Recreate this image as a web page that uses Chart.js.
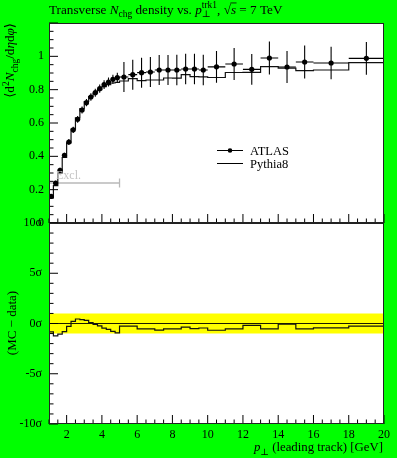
<!DOCTYPE html>
<html><head><meta charset="utf-8">
<script src="https://cdn.jsdelivr.net/npm/chart.js@4/dist/chart.umd.min.js"></script>
<style>
html,body{margin:0;padding:0;background:#00ff00;}
#wrap{position:relative;width:397px;height:458px;overflow:hidden;}
canvas{position:absolute;left:0;top:0;}
</style></head><body>
<div id="wrap"><canvas id="cTop" width="397" height="458"></canvas><canvas id="cBot" width="397" height="458"></canvas></div>
<script>
// ---- data ----
const binEdges = [1.0,1.25,1.5,1.75,2.0,2.25,2.5,2.75,3.0,3.25,3.5,3.75,4.0,4.25,4.5,4.75,5.0,
  5.5,6.0,6.5,7.0,7.5,8.0,8.5,9.0,9.5,10,11,12,13,14,15,16,18,20];
const atlasValues = [0.160,0.240,0.316,0.406,0.486,0.559,0.622,0.678,0.722,0.756,0.782,0.806,0.830,0.846,0.862,0.872,
  0.876,0.890,0.902,0.906,0.918,0.918,0.918,0.924,0.924,0.918,
  0.937,0.954,0.922,0.990,0.936,0.966,0.960,0.988];
const atlasErrors = [0.012,0.013,0.015,0.016,0.018,0.019,0.020,0.021,0.022,0.023,0.024,0.025,0.026,0.027,0.028,0.030,
  0.090,0.090,0.090,0.090,0.090,0.090,0.092,0.092,0.092,0.092,
  0.095,0.096,0.092,0.099,0.096,0.099,0.097,0.098];
const pythiaValues = [0.150,0.224,0.300,0.393,0.481,0.563,0.631,0.686,0.729,0.758,0.780,0.800,0.818,0.830,0.840,0.844,
  0.852,0.866,0.854,0.858,0.858,0.870,0.869,0.890,0.878,0.877,
  0.873,0.903,0.904,0.938,0.929,0.914,0.918,0.962];
const xTickLabels = [2,4,6,8,10,12,14,16,18,20];
const yTopTickLabels = [0,0.2,0.4,0.6,0.8,1];
const yBotTickLabels = [-10,-5,0,5,10];
const exclRange = [1,5];
const exclLevel = 0.24;
const bandHalfWidth = 1;

// ---- derived tables ----
const FAM = "'Liberation Serif','DejaVu Serif',serif";
const nB = atlasValues.length;
const centers = atlasValues.map((v,i)=>(binEdges[i]+binEdges[i+1])/2);
function stepData(vals){
  const d = vals.map((v,i)=>({x:binEdges[i],y:v}));
  d.push({x:binEdges[nB],y:vals[nB-1]});
  return d;
}
const errBars = [];
atlasValues.forEach((v,i)=>{
  const c = centers[i], e = atlasErrors[i];
  errBars.push({x:binEdges[i],y:v},{x:binEdges[i+1],y:v},{x:c,y:null},
               {x:c,y:v-e},{x:c,y:v+e},{x:c,y:null});
});
const ratioValues = pythiaValues.map((m,i)=>(m-atlasValues[i])/atlasErrors[i]);

// ---- rich text helper ----
function drawRich(ctx, segs, x, y, size, align){
  const items=[]; let total=0, pend=0;
  for(const s of segs){
    const fs = s.v ? size*0.72 : size;
    ctx.font = (s.it?'italic ':'')+fs+'px '+FAM;
    const w = ctx.measureText(s.t).width;
    let adv;
    if(s.noAdv){adv=0;pend=w;} else {adv=Math.max(w,pend);pend=0;}
    items.push({s,fs,w,adv}); total+=adv;
  }
  let cx = align==='right'? x-total : align==='center'? x-total/2 : x;
  for(const it of items){
    const s=it.s;
    ctx.font=(s.it?'italic ':'')+it.fs+'px '+FAM;
    const dy = s.v==='sub'? size*0.28 : s.v==='sup'? -size*0.40 : 0;
    ctx.fillText(s.t,cx,y+dy);
    if(s.over){
      ctx.save(); ctx.lineWidth=0.8; ctx.strokeStyle=ctx.fillStyle;
      ctx.beginPath(); ctx.moveTo(cx-0.5,y-size*0.80); ctx.lineTo(cx+it.w+0.5,y-size*0.80); ctx.stroke(); ctx.restore();
    }
    cx+=it.adv;
  }
}

// ---- frame + inward ticks ----
function framePlugin(opts){
  return {
    id:'frame'+opts.name,
    beforeDraw(chart){
      const a=chart.chartArea, ctx=chart.ctx;
      ctx.save(); ctx.fillStyle='#fff'; ctx.fillRect(a.left,a.top,a.right-a.left,a.bottom-a.top); ctx.restore();
    },
    afterDraw(chart){
      const a=chart.chartArea, ctx=chart.ctx, xs=chart.scales.x, ys=chart.scales.y;
      ctx.save();
      ctx.strokeStyle='#000'; ctx.lineWidth=1;
      ctx.beginPath();
      for(let v=xs.min; v<=xs.max+1e-9; v+=0.5){
        const px=xs.getPixelForValue(v);
        const major = xTickLabels.includes(v);
        ctx.moveTo(px,a.bottom); ctx.lineTo(px,a.bottom-(major?9:4.5));
      }
      for(let v=ys.min; v<=ys.max+1e-9; v+=opts.yMinor){
        const r=Math.round(v/opts.yMinor);
        const py=ys.getPixelForValue(r*opts.yMinor);
        const major = (r % opts.majorEvery)===0;
        ctx.moveTo(a.left,py); ctx.lineTo(a.left+(major?9:4.5),py);
      }
      ctx.stroke();
      ctx.strokeStyle='#222';
      ctx.strokeRect(Math.round(a.left)+0.5,Math.round(a.top)+0.5,Math.round(a.right-a.left)-1,Math.round(a.bottom-a.top)-1);
      ctx.restore();
      opts.extra && opts.extra(chart);
    }
  };
}

const common = {
  responsive:false, animation:false, devicePixelRatio:1,
  plugins:{legend:{display:false},tooltip:{enabled:false}},
};

// ---- top panel ----
new Chart(document.getElementById('cTop'),{
  type:'line',
  data:{datasets:[
    {label:'Excl.',data:[{x:exclRange[0],y:exclLevel},{x:exclRange[1],y:exclLevel}],
     borderColor:'#b8b8b8',borderWidth:1.3,pointStyle:'line',rotation:90,pointRadius:4.5,
     pointBorderColor:'#b8b8b8',pointBorderWidth:1.3,order:4},
    {label:'Pythia8',data:stepData(pythiaValues),stepped:true,borderColor:'#111',borderWidth:1.2,pointRadius:0,order:3},
    {label:'ATLAS bars',data:errBars,borderColor:'#000',borderWidth:1.1,pointRadius:0,spanGaps:false,order:2},
    {label:'ATLAS',data:centers.map((c,i)=>({x:c,y:atlasValues[i]})),showLine:false,
     pointRadius:2.6,pointBackgroundColor:'#000',pointBorderWidth:0,order:1}
  ]},
  options:{...common,
    layout:{padding:{left:0,top:23,right:13,bottom:235}},
    scales:{
      x:{type:'linear',min:1,max:20,display:false},
      y:{type:'linear',min:0,max:1.2,
         afterFit(s){s.width=49;},
         afterBuildTicks(s){s.ticks=yTopTickLabels.map(v=>({value:v}));},
         grid:{display:false,drawTicks:false},border:{display:false},
         ticks:{padding:5,color:'#000',font:{family:FAM,size:12},callback:v=>String(v)}}
    }
  },
  plugins:[framePlugin({name:'t',yMinor:0.05,majorEvery:4,extra(chart){
    const ctx=chart.ctx;
    ctx.save(); ctx.fillStyle='#000'; ctx.textBaseline='alphabetic';
    drawRich(ctx,[{t:'Transverse '},{t:'N',it:1},{t:'chg',v:'sub'},{t:' density vs. '},{t:'p',it:1},
      {t:'⊥',v:'sub',noAdv:1},{t:'trk1',v:'sup'},{t:', '},{t:'√'},{t:'s',it:1,over:1},{t:' = 7 TeV'}],49,13.5,13.2,'left');
    ctx.translate(14,23); ctx.rotate(-Math.PI/2);
    drawRich(ctx,[{t:'⟨d'},{t:'2',v:'sup'},{t:'N',it:1},{t:'chg',v:'sub'},{t:'/d'},{t:'η',it:1},{t:'d'},{t:'φ',it:1},{t:'⟩'}],0,0,13.2,'right');
    ctx.restore();
    // legend
    ctx.save(); ctx.strokeStyle='#000'; ctx.lineWidth=1.1; ctx.fillStyle='#000';
    ctx.beginPath(); ctx.moveTo(217,150.5); ctx.lineTo(243,150.5); ctx.moveTo(217,163.5); ctx.lineTo(243,163.5); ctx.stroke();
    ctx.beginPath(); ctx.arc(230,150.5,2.3,0,Math.PI*2); ctx.fill();
    ctx.font='12.5px '+FAM; ctx.textBaseline='alphabetic';
    ctx.fillText('ATLAS',250,155); ctx.fillText('Pythia8',250,168);
    ctx.fillStyle='#c4c4c4'; ctx.font='12px '+FAM; ctx.fillText('Excl.',56,179);
    ctx.restore();
  }})]
});

// ---- bottom panel ----
new Chart(document.getElementById('cBot'),{
  type:'line',
  data:{datasets:[
    {label:'band+',data:[{x:1,y:bandHalfWidth},{x:20,y:bandHalfWidth}],fill:'+1',backgroundColor:'#ffff00',borderWidth:0,pointRadius:0,order:5},
    {label:'band-',data:[{x:1,y:-bandHalfWidth},{x:20,y:-bandHalfWidth}],borderWidth:0,pointRadius:0,order:4},
    {label:'zero',data:[{x:1,y:0},{x:20,y:0}],borderColor:'#000',borderWidth:0.9,pointRadius:0,order:3},
    {label:'Pythia8 ratio',data:stepData(ratioValues),stepped:true,borderColor:'#111',borderWidth:1.2,pointRadius:0,order:1}
  ]},
  options:{...common,
    layout:{padding:{left:0,top:223,right:13,bottom:0}},
    scales:{
      x:{type:'linear',min:1,max:20,
         afterFit(s){s.height=34;},
         afterBuildTicks(s){s.ticks=xTickLabels.map(v=>({value:v}));},
         grid:{display:false,drawTicks:false},border:{display:false},
         ticks:{padding:4,maxRotation:0,autoSkip:false,color:'#000',font:{family:FAM,size:12},callback:v=>String(v)}},
      y:{type:'linear',min:-10,max:10,
         afterFit(s){s.width=49;},
         afterBuildTicks(s){s.ticks=yBotTickLabels.map(v=>({value:v}));},
         grid:{display:false,drawTicks:false},border:{display:false},
         ticks:{padding:7,color:'#000',font:{family:FAM,size:12},callback:v=>v+'σ'}}
    }
  },
  plugins:[framePlugin({name:'b',yMinor:1,majorEvery:5,extra(chart){
    const ctx=chart.ctx;
    ctx.save(); ctx.fillStyle='#000'; ctx.textBaseline='alphabetic';
    drawRich(ctx,[{t:'p',it:1},{t:'⊥',v:'sub'},{t:' (leading track) [GeV]'}],383,451,12.8,'right');
    ctx.translate(16,323); ctx.rotate(-Math.PI/2);
    drawRich(ctx,[{t:'(MC − data)'}],0,0,13,'center');
    ctx.restore();
  }})]
});
</script>
</body></html>
